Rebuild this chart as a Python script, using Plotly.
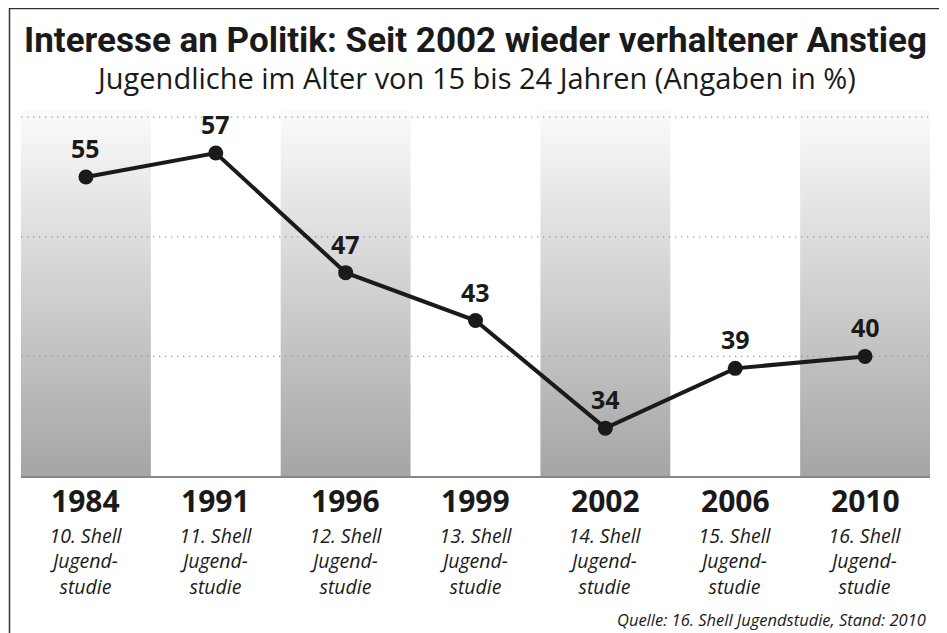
import plotly.graph_objects as go

# data
years = ["1984", "1991", "1996", "1999", "2002", "2006", "2010"]
studies = ["10. Shell", "11. Shell", "12. Shell", "13. Shell", "14. Shell", "15. Shell", "16. Shell"]
interest = [55, 57, 47, 43, 34, 39, 40]
grid_values = [40, 50, 60]
shaded = [0, 2, 4, 6]

Y_MIN, Y_MAX = 30, 60.6
TITLE_FONT = "Roboto, Open Sans, sans-serif"
BODY_FONT = "Open Sans, Noto Sans, sans-serif"
INK = "#1a1a1a"

x_idx = list(range(len(years)))

fig = go.Figure()

# gradient background columns
for i in shaded:
    fig.add_trace(go.Scatter(
        x=[i - 0.5, i + 0.5, i + 0.5, i - 0.5, i - 0.5],
        y=[Y_MIN, Y_MIN, Y_MAX, Y_MAX, Y_MIN],
        mode="lines",
        line=dict(width=0),
        fill="toself",
        fillgradient=dict(type="vertical",
                          colorscale=[[0, "#a5a5a5"], [1, "#fbfbfb"]]),
        hoverinfo="skip",
        showlegend=False,
    ))

# dotted gridlines on top of the columns
for g in grid_values:
    fig.add_trace(go.Scatter(
        x=[-0.5, 6.5], y=[g, g],
        mode="lines",
        line=dict(color="#999999", width=1.3, dash="1.3px,4.7px"),
        hoverinfo="skip",
        showlegend=False,
    ))

# main series
fig.add_trace(go.Scatter(
    x=x_idx, y=interest,
    mode="lines+markers",
    line=dict(color=INK, width=4),
    marker=dict(color=INK, size=15),
    showlegend=False,
))

# value labels
for i, v in zip(x_idx, interest):
    fig.add_annotation(
        x=i, y=v, xref="x", yref="y",
        text=f"<b>{v}</b>", showarrow=False,
        yshift=29,
        font=dict(family=BODY_FONT, size=25, color=INK),
    )

# category labels below the axis
for i, (yr, st) in enumerate(zip(years, studies)):
    fig.add_annotation(
        x=i, y=-0.066, xref="x", yref="paper",
        xanchor="center", yanchor="middle",
        text=f"<b>{yr}</b>", showarrow=False,
        font=dict(family=BODY_FONT, size=30, color=INK),
    )
    fig.add_annotation(
        x=i, y=-0.232, xref="x", yref="paper",
        xanchor="center", yanchor="middle",
        text=f"<i>{st}<br>Jugend-<br>studie</i>", showarrow=False,
        font=dict(family=BODY_FONT, size=19.5, color=INK),
    )

# titles and source
fig.add_annotation(
    x=0.5, y=1.191, xref="paper", yref="paper",
    xanchor="center", yanchor="middle",
    text="<b>Interesse an Politik: Seit 2002 wieder verhaltener Anstieg</b>",
    showarrow=False,
    font=dict(family=TITLE_FONT, size=35, color=INK),
)
fig.add_annotation(
    x=0.5, y=1.09, xref="paper", yref="paper",
    xanchor="center", yanchor="middle",
    text="Jugendliche im Alter von 15 bis 24 Jahren (Angaben in %)",
    showarrow=False,
    font=dict(family=BODY_FONT, size=29, color=INK),
)
fig.add_annotation(
    x=0.998, y=-0.393, xref="paper", yref="paper",
    xanchor="right", yanchor="middle",
    text="<i>Quelle: 16. Shell Jugendstudie, Stand: 2010</i>",
    showarrow=False,
    font=dict(family=BODY_FONT, size=16.5, color=INK),
)

# outer frame
fig.add_shape(type="rect", xref="paper", yref="paper",
              x0=-0.01265, x1=1.0165, y0=-0.5, y1=1.2773,
              line=dict(color="#333333", width=1.5))

fig.update_xaxes(range=[-0.5, 6.5], showgrid=False, zeroline=False,
                 showticklabels=False, showline=True,
                 linecolor="#888888", linewidth=2)
fig.update_yaxes(range=[Y_MIN, Y_MAX], showgrid=False, zeroline=False,
                 showticklabels=False)

fig.update_layout(
    width=947, height=633,
    margin=dict(l=13, r=25, t=102, b=165),
    paper_bgcolor="white",
    plot_bgcolor="white",
)

fig.write_html("out.html")
